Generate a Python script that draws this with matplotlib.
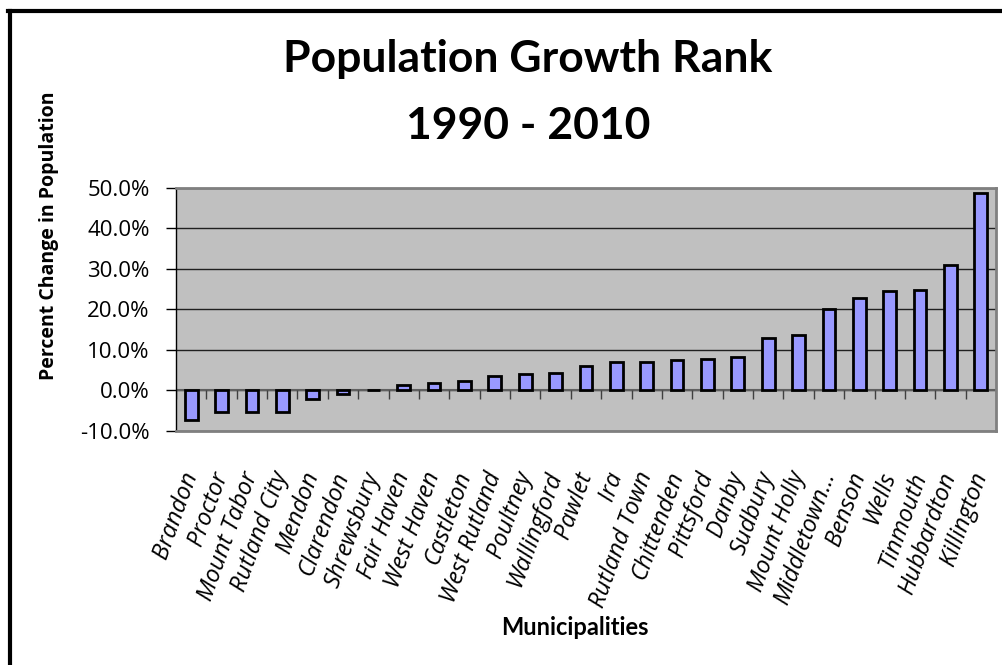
import numpy as np
import matplotlib
matplotlib.use('Agg')
import matplotlib.pyplot as plt
from matplotlib.ticker import FuncFormatter

# ------------- Data ------------ #

towns = ['Brandon', 'Proctor', 'Mount Tabor', 'Rutland City', 'Mendon',
         'Clarendon', 'Shrewsbury', 'Fair Haven', 'West Haven', 'Castleton',
         'West Rutland', 'Poultney', 'Wallingford', 'Pawlet', 'Ira',
         'Rutland Town', 'Chittenden', 'Pittsford', 'Danby', 'Sudbury',
         'Mount Holly', 'Middletown...', 'Benson', 'Wells', 'Tinmouth',
         'Hubbardton', 'Killington']
pctChange = [-7.2, -5.3, -5.3, -5.3, -2.1,
             -0.9, 0.2, 1.4, 1.9, 2.2,
             3.6, 4.0, 4.2, 6.1, 6.9,
             6.9, 7.4, 7.8, 8.3, 13.0,
             13.6, 20.1, 22.9, 24.5, 24.8,
             30.9, 48.8]
yTicks = [-10, 0, 10, 20, 30, 40, 50]

# ------------- Plot ------------ #

fig = plt.figure(figsize=(10.02, 6.65), dpi=100)
ax = fig.add_axes([0.1756, 0.352, 0.8184, 0.3655])

x = np.arange(len(towns))
ax.set_facecolor('#C0C0C0')
ax.set_axisbelow(True)
ax.yaxis.grid(True, color='#202020', linewidth=1.0)
ax.bar(x, pctChange, width=0.42, color='#9999FF', edgecolor='black',
       linewidth=2.0, zorder=3)

ax.set_xlim(-0.5, len(towns) - 0.5)
ax.set_ylim(-10, 50)
ax.set_yticks(yTicks)
ax.yaxis.set_major_formatter(FuncFormatter(lambda v, p: '%.1f%%' % v))

# zero line with category boundary ticks
ax.axhline(0, color='#606060', linewidth=1.5, zorder=2)
ax.vlines(np.arange(len(towns) + 1) - 0.5, -2.1, 0, color='#404040',
          linewidth=1.0, zorder=2)

for s in ax.spines.values():
    s.set_color('#808080')
    s.set_linewidth(2)
ax.spines['left'].set_color('black')
ax.spines['left'].set_linewidth(1)

ax.tick_params(axis='y', length=7, width=1, color='black', pad=12,
               labelsize=16)
for t in ax.get_yticklabels():
    t.set_fontfamily('Open Sans')

ax.set_xticks(x)
ax.set_xticklabels(towns, rotation=70, ha='right', va='center',
                   rotation_mode='anchor', fontsize=17, style='italic',
                   family='Open Sans')
ax.tick_params(axis='x', length=0, pad=30)

fig.text(0.527, 0.912, 'Population Growth Rank', ha='center', va='center',
         fontsize=32, fontweight='bold', family='Lato')
fig.text(0.527, 0.81, '1990 - 2010', ha='center', va='center',
         fontsize=32, fontweight='bold', family='Lato')
fig.text(0.574, 0.057, 'Municipalities', ha='center', va='center',
         fontsize=17, fontweight='bold', family='Lato')
fig.text(0.049, 0.645, 'Percent Change in Population', ha='center',
         va='center', rotation=90, fontsize=14, fontweight='bold',
         family='Open Sans')

# outer chart border (top and left visible)
fig.add_artist(plt.Line2D([0.0099, 0.0099], [0.0, 0.9835],
                          color='black', linewidth=3.0))
fig.add_artist(plt.Line2D([0.0084, 1.0], [0.9835, 0.9835],
                          color='black', linewidth=3.0))

plt.savefig('out.png', dpi=100)
